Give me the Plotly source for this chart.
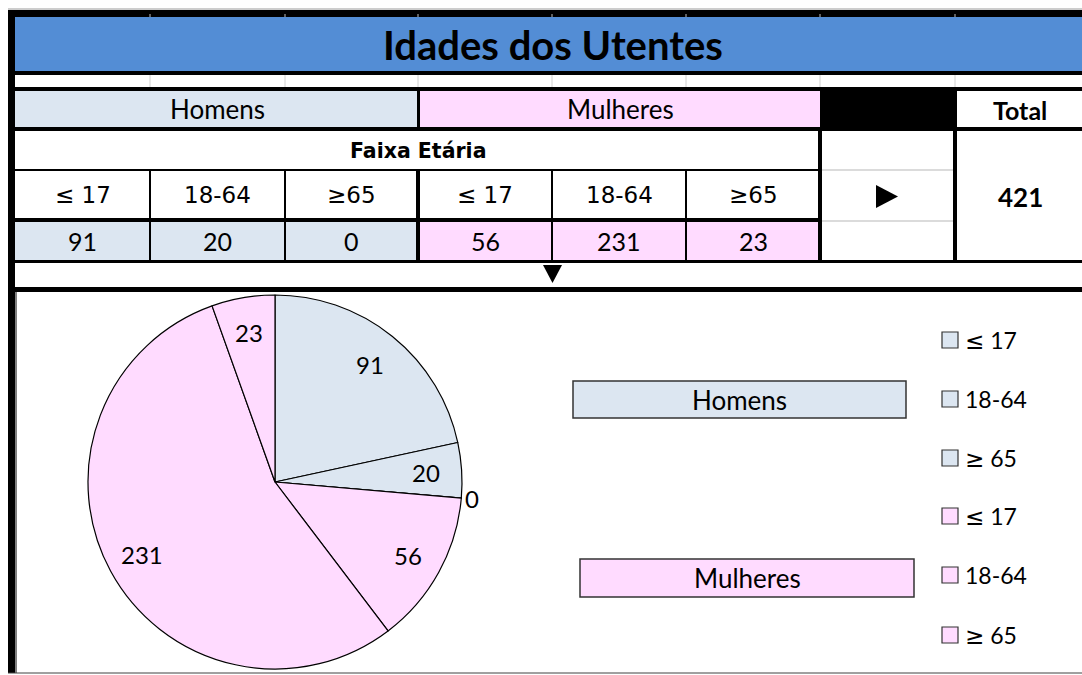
import math
import plotly.graph_objects as go

# ---------------- data ----------------
title = "Idades dos Utentes"
groups = ["Homens", "Mulheres"]
faixas_header = ["≤ 17", "18-64", "≥65"]
faixas_legend = ["≤ 17", "18-64", "≥ 65"]
homens = [91, 20, 0]
mulheres = [56, 231, 23]
group_colors = ["#DCE6F1", "#FFDBFF"]
title_color = "#538DD5"

total = sum(homens) + sum(mulheres)

W, H = 1082, 675


def X(px):
    return px / W


def Y(py):
    return 1 - py / H


shapes = []
annotations = []


def rect(x0, y0, x1, y1, fill, lc=None, lw=0):
    shapes.append(dict(type="rect", xref="paper", yref="paper",
                       x0=X(x0), x1=X(x1), y0=Y(y1), y1=Y(y0),
                       fillcolor=fill, line=dict(width=lw, color=lc or fill),
                       layer="below"))


def line(x0, y0, x1, y1, color, w=1):
    shapes.append(dict(type="line", xref="paper", yref="paper",
                       x0=X(x0), x1=X(x1), y0=Y(y0), y1=Y(y1),
                       line=dict(width=w, color=color), layer="below"))


def tri(pts, color="black"):
    path = "M " + " L ".join(f"{X(a)},{Y(b)}" for a, b in pts) + " Z"
    shapes.append(dict(type="path", xref="paper", yref="paper", path=path,
                       fillcolor=color, line=dict(width=0, color=color)))


def sym(s):
    # draw the comparison signs with a font that has full-size glyphs
    for c in "≤≥":
        s = s.replace(c, f"<span style=\"font-family:'DejaVu Sans'\">{c}</span>")
    return s


def text(x, y, s, size, family="Lato", bold=False, xanchor="center", color="black"):
    annotations.append(dict(xref="paper", yref="paper", x=X(x), y=Y(y),
                            text=(f"<b>{s}</b>" if bold else s), showarrow=False,
                            xanchor=xanchor, yanchor="middle",
                            font=dict(size=size, family=family, color=color)))


L, R = 15, 1082
cols = [15, 150, 285, 418, 552, 686, 820, 955, 1082]

# outer frame
line(8, 9, R, 9, "#9a9a9a", 1)
rect(8, 10, R, 17, "black")
rect(8, 10, 15, 673, "black")
# title band
rect(L, 17, R, 71, title_color)
for c in cols[1:-1]:
    line(c, 14, c, 17, "#bfbfbf", 1)
rect(L, 71, R, 75, "black")
for c in cols[1:-1]:
    line(c, 75, c, 87, "#d0d0d0", 1)
rect(L, 87, R, 91, "black")
# group header row
rect(L, 91, 418, 127, group_colors[0])
rect(418, 91, 820, 127, group_colors[1])
rect(820, 91, 957, 127, "black")
rect(417, 91, 420, 127, "black")
rect(L, 127, R, 131, "black")
# header/value rows
rect(L, 169, 820, 171, "black")
line(822, 170, 953, 170, "#cfcfcf", 1.5)
rect(L, 218, 822, 222, "black")
line(822, 221, 953, 221, "#cfcfcf", 1.5)
for i in range(3):
    rect(cols[i], 222, cols[i + 1], 260, group_colors[0])
    rect(cols[i + 3], 222, cols[i + 4], 260, group_colors[1])
for c in [150, 285, 552, 686]:
    rect(c - 1, 169, c + 1, 260, "black")
rect(416, 169, 420, 260, "black")
rect(818, 127, 822, 263, "black")
rect(953, 91, 957, 260, "black")
rect(L, 260, R, 263, "black")
rect(L, 287, R, 292, "black")
line(16, 292, 16, 673, "black", 1)
line(8, 673, R, 673, "#404040", 1)

# arrows
tri([(876, 185), (876, 208), (898, 196.5)])
tri([(543, 265), (562, 265), (552.5, 283)])

# table texts
text(553, 45, title, 40, bold=True)
text(217, 109, groups[0], 26)
text(620, 109, groups[1], 26)
text(1020, 110, "Total", 25, bold=True)
text(417.5, 151, "Faixa Etária", 20.5, family="DejaVu Sans", bold=True)
for i, f in enumerate(faixas_header * 2):
    text((cols[i] + cols[i + 1]) / 2, 195, f, 23, family="DejaVu Sans")
for i, v in enumerate(homens + mulheres):
    text((cols[i] + cols[i + 1]) / 2, 241, str(v), 25)
text(1020, 197, str(total), 26, bold=True)

# ---------------- pie ----------------
values = homens + mulheres
labels = [f"{g} {f}" for g in groups for f in faixas_legend]
colors = [group_colors[0]] * 3 + [group_colors[1]] * 3
cx, cy, r = 275, 482, 187

fig = go.Figure(go.Pie(
    values=values, labels=labels, sort=False, direction="clockwise", rotation=0,
    marker=dict(colors=colors, line=dict(color="black", width=1.2)),
    textinfo="none", hoverinfo="label+value", showlegend=False,
    domain=dict(x=[X(cx - r), X(cx + r)], y=[Y(cy + r), Y(cy - r)]),
))

cum = 0
for v in values:
    frac = (cum + v / 2) / total
    th = 2 * math.pi * frac
    k = 0.81 if v > 0 else 1.055
    text(cx + r * k * math.sin(th), cy - r * k * math.cos(th), str(v), 24)
    cum += v

# group boxes
rect(573, 381, 906, 418, group_colors[0], "#333333", 1.5)
text(739.5, 400, groups[0], 26)
rect(580, 559, 914, 597, group_colors[1], "#333333", 1.5)
text(747, 578, groups[1], 26)

# legend
leg_y = [340, 399, 458, 516, 575, 635]
for i, yy in enumerate(leg_y):
    rect(942, yy - 8, 958, yy + 8, colors[i], "#333333", 1.2)
    text(963, yy, sym(faixas_legend[i % 3]), 23, xanchor="left")

fig.update_layout(
    width=W, height=H, margin=dict(l=0, r=0, t=0, b=0),
    paper_bgcolor="white", plot_bgcolor="white",
    shapes=shapes, annotations=annotations,
)
fig.write_html("out.html", config={"displayModeBar": False},
               post_script="document.body.style.margin='0px';")
